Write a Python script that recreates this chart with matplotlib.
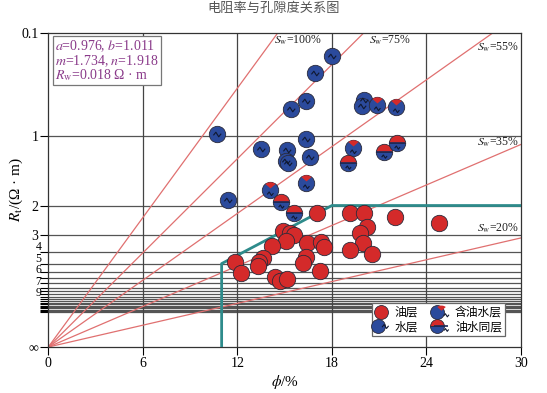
import numpy as np
import matplotlib
matplotlib.use("Agg")
import matplotlib.pyplot as plt
from matplotlib.path import Path
from matplotlib.lines import Line2D
from matplotlib.legend_handler import HandlerTuple
import matplotlib.transforms as mtransforms

plt.rcParams['font.family'] = ['Liberation Serif', 'Noto Sans CJK SC']
plt.rcParams['mathtext.fontset'] = 'stix'

# Archie parameters
a, b, m, n, Rw = 0.976, 1.011, 1.734, 1.918, 0.018

# water layer
water_phi = [17.98, 16.92, 16.35, 15.40, 20.03, 19.90, 10.72, 16.35, 13.48, 15.17, 15.08, 15.23, 16.61, 11.42]
water_rt = [0.573, 0.637, 0.766, 0.812, 0.761, 0.794, 0.986, 1.028, 1.12, 1.126, 1.241, 1.271, 1.196, 1.87]
# oil-bearing water layer
oilwater_phi = [20.84, 22.04, 19.35, 16.35, 14.07]
oilwater_rt = [0.788, 0.798, 1.11, 1.54, 1.67]
# oil-water layer
same_phi = [19.0, 21.3, 22.1, 14.77, 15.61]
same_rt = [1.266, 1.149, 1.058, 1.908, 2.20]
# oil layer
oil_phi = [17.07, 19.14, 20.03, 22.0, 24.81, 20.24, 19.78, 19.95, 19.14, 20.52,
           14.91, 15.34, 15.61, 15.08, 14.18, 16.40, 17.30, 17.49, 16.35, 16.18,
           17.24, 11.85, 12.23, 13.64, 13.39, 13.32, 14.38, 14.70, 15.13]
oil_rt = [2.20, 2.20, 2.20, 2.325, 2.52, 2.65, 2.90, 3.39, 3.85, 4.16,
          2.81, 2.92, 3.00, 3.28, 3.57, 3.43, 3.34, 3.63, 4.36, 4.97,
          5.87, 4.81, 6.20, 4.49, 4.81, 5.26, 6.73, 7.44, 7.18]

sw_values = [100, 75, 55, 35, 20]
cut_phi = [11, 11, 18, 30]
cut_rt = [np.inf, 5, 2, 2]

grid_rt = list(range(1, 23))
small_labels = ['4', '5', '6', '7', '9']
small_pos = [0.474, 0.419, 0.365, 0.310, 0.256]


def yv(rt):
    return np.asarray(rt, dtype=float) ** (-1.0 / m)


RED = '#d42a2a'
BLUE = '#2b4a9c'
EDGE = '#2a2a3a'
MS = 11.8


def mk(verts, closed=False):
    verts = [(1, 1), (-1, -1)] + list(verts)
    codes = [Path.MOVETO, Path.MOVETO, Path.MOVETO] + [Path.LINETO] * (len(verts) - 3)
    if closed:
        verts.append(verts[2])
        codes.append(Path.CLOSEPOLY)
    return Path(verts, codes)


def zig(dy, s=1.0):
    pts = [(-0.5, -0.1), (-0.2, 0.28), (0.15, -0.28), (0.45, 0.1)]
    return mk([(x * s, y * s + dy) for x, y in pts])


ang = np.radians(np.linspace(128, 52, 12))
tri = mk([(np.cos(t), np.sin(t)) for t in ang] + [(0, 0.25)], closed=True)


def style(kind, ms):
    circ = dict(marker='o', ms=ms, mec=EDGE, mew=0.6, ls='none')
    zl = dict(ms=ms, mfc='none', mec='#101830', mew=0.8, ls='none', fillstyle='none')
    if kind == 'oil':
        return [dict(circ, mfc=RED)]
    if kind == 'water':
        return [dict(circ, mfc=BLUE), dict(zl, marker=zig(0.0))]
    if kind == 'oilwater':
        return [dict(circ, mfc=BLUE), dict(marker=tri, ms=ms, mfc=RED, mew=0, ls='none'),
                dict(zl, marker=zig(-0.4, 0.8))]
    return [dict(circ, mfc=RED, mfcalt=BLUE, fillstyle='top'),
            dict(marker='_', ms=ms * 0.95, mec='#1a2a5a', mew=1.2, ls='none'),
            dict(zl, marker=zig(-0.5, 0.7))]


fig = plt.figure(figsize=(5.47, 3.93), dpi=100)
ax = fig.add_axes([0.0883, 0.117, 0.8642, 0.799])

# grid
for r in grid_rt:
    ax.axhline(yv(r), color='#555555', lw=0.9, zorder=1)
for xg in [6, 12, 18, 24]:
    ax.axvline(xg, color='#444444', lw=0.9, zorder=1)

# Sw lines
phi_line = np.array([0, 30])
for sw in sw_values:
    k = (sw / 100) ** (n / m) / (a * b * Rw) ** (1 / m)
    ax.plot(phi_line, phi_line / 100 * k, color='#e07070', lw=0.9, zorder=2)

# cutoff line
ax.plot(cut_phi, yv(cut_rt), color='#2e8b8b', lw=2, zorder=3)

for kind, px, rt in [('oil', oil_phi, oil_rt), ('water', water_phi, water_rt),
                     ('oilwater', oilwater_phi, oilwater_rt), ('same', same_phi, same_rt)]:
    for st in style(kind, MS):
        ax.plot(px, yv(rt), zorder=4, **st)

ax.set_xlim(0, 30)
ax.set_ylim(0, 1.488)
ax.set_xticks([0, 6, 12, 18, 24, 30])
ax.set_yticks([0] + list(yv(grid_rt)) + [1.488])
ylabs = ['∞'] + [str(r) if r in (1, 2, 3) else '' for r in grid_rt] + ['0.1']
ax.set_yticklabels(ylabs)
ax.tick_params(labelsize=10, length=6, width=0.8, direction='out', pad=1)
trans = mtransforms.blended_transform_factory(ax.transAxes, ax.transData)
for lab, pos in zip(small_labels, small_pos):
    ax.text(-0.015, pos, lab, transform=trans, ha='right', va='center', fontsize=8.5)
for sp in ax.spines.values():
    sp.set_linewidth(0.9)
    sp.set_color('#333333')

ax.set_xlabel('$\\phi$/%', fontsize=11, labelpad=2)
ax.set_ylabel('$R_\\mathrm{t}$/(Ω · m)', fontsize=11)
ax.yaxis.set_label_coords(-0.05, 0.5)
fig.text(0.5, 0.978, '电阻率与孔隙度关系图', ha='center', va='center', fontsize=9.5, color='#555555')

ax.text(0.45, 1.462, '$a$=0.976, $b$=1.011\n$m$=1.734, $n$=1.918\n$R_\\mathrm{w}$=0.018 Ω · m',
        fontsize=10, color='#8a3a8a', va='top', ha='left', linespacing=0.9,
        bbox=dict(boxstyle='square,pad=0.15', fc='white', ec='#777777', lw=0.9), zorder=5)

sw_lab = [(15.85, 1.455, 'center'), (21.7, 1.455, 'center'), (29.85, 1.42, 'right'),
          (29.85, 0.97, 'right'), (29.85, 0.565, 'right')]
for (x, y, ha), sw in zip(sw_lab, sw_values):
    ax.text(x, y, '$S_\\mathrm{w}$=%d%%' % sw, fontsize=8.5, ha=ha, va='center', color='#222222', zorder=5)

handles = []
for kind in ['oil', 'water', 'oilwater', 'same']:
    handles.append(tuple(Line2D([], [], **st) for st in style(kind, 10)))
leg = ax.legend(handles, ['油层', '水层', '含油水层', '油水同层'], ncol=2,
                handler_map={tuple: HandlerTuple(ndivide=None, pad=0)},
                loc='lower right', bbox_to_anchor=(0.9785, 0.015),
                frameon=True, fancybox=False, edgecolor='#666666', framealpha=1,
                handlelength=1.1, handletextpad=0.6, columnspacing=1.4,
                borderpad=0.25, labelspacing=0.12, prop={'family': ['Noto Sans CJK SC'], 'size': 8.5})
leg.get_frame().set_linewidth(0.9)
leg.set_zorder(6)

fig.savefig('out.png', dpi=100)
